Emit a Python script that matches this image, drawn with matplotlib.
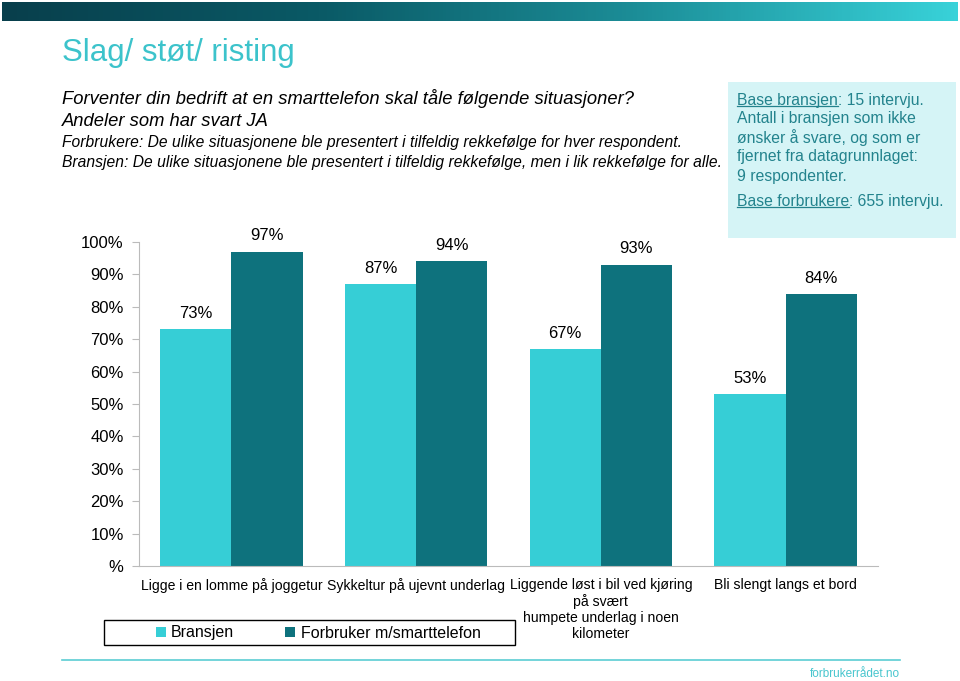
import numpy as np
import matplotlib
matplotlib.use("Agg")
import matplotlib.pyplot as plt
from matplotlib.lines import Line2D
from matplotlib.colors import LinearSegmentedColormap

plt.rcParams['font.family'] = ['Liberation Sans', 'DejaVu Sans']

# Data
categories = [
    "Ligge i en lomme på joggetur",
    "Sykkeltur på ujevnt underlag",
    "Liggende løst i bil ved kjøring\npå svært\nhumpete underlag i noen\nkilometer",
    "Bli slengt langs et bord",
]
bransjen = [73, 87, 67, 53]
forbruker = [97, 94, 93, 84]
series_names = ["Bransjen", "Forbruker m/smarttelefon"]
y_ticks = [0, 10, 20, 30, 40, 50, 60, 70, 80, 90, 100]
y_tick_labels = ["%"] + [f"{v}%" for v in y_ticks[1:]]

light = "#36CED6"
dark = "#0E727D"
teal_text = "#23838D"
title_col = "#3CC3CB"

fig = plt.figure(figsize=(9.6, 6.81), dpi=100)

# Gradient header bar
hdr = fig.add_axes([2 / 960, 1 - 21 / 681, 956 / 960, 19 / 681])
grad = np.linspace(0, 1, 256).reshape(1, -1)
cmap = LinearSegmentedColormap.from_list("hdr", ["#083F4C", "#0A5A66", "#1C8E98", "#38D2D9"])
hdr.imshow(grad, aspect="auto", cmap=cmap)
hdr.axis("off")

# Title and subtitles
fig.text(62 / 960, 1 - 53 / 681, "Slag/ støt/ risting", color=title_col, fontsize=22.5, va="center")
fig.text(62 / 960, 1 - 99 / 681, "Forventer din bedrift at en smarttelefon skal tåle følgende situasjoner?",
         fontsize=13.25, style="italic", va="center")
fig.text(62 / 960, 1 - 121 / 681, "Andeler som har svart JA", fontsize=13.25, style="italic", va="center")
fig.text(62 / 960, 1 - 142 / 681,
         "Forbrukere: De ulike situasjonene ble presentert i tilfeldig rekkefølge for hver respondent.",
         fontsize=11.25, style="italic", va="center")
fig.text(62 / 960, 1 - 162 / 681,
         "Bransjen: De ulike situasjonene ble presentert i tilfeldig rekkefølge, men i lik rekkefølge for alle.",
         fontsize=11.25, style="italic", va="center")

# Info box
fig.patches.append(plt.Rectangle((728 / 960, 1 - 238 / 681), 228 / 960, 156 / 681,
                                 transform=fig.transFigure, facecolor="#D5F4F6", edgecolor="none"))
info_lines = [
    (100, "Base bransjen", ": 15 intervju."),
    (119, "Antall i bransjen som ikke", ""),
    (138, "ønsker å svare, og som er", ""),
    (157, "fjernet fra datagrunnlaget:", ""),
    (177, "9 respondenter.", ""),
    (201, "Base forbrukere", ": 655 intervju."),
]
underlined = []
for ypx, first, rest in info_lines:
    t = fig.text(737 / 960, 1 - ypx / 681, first, fontsize=11.3, color=teal_text, va="center")
    if rest:
        underlined.append((t, rest))

# Chart axes
ax = fig.add_axes([139 / 960, 1 - 566 / 681, 739 / 960, 324 / 681])
x = np.arange(len(categories))
w = 0.385
b1 = ax.bar(x - w / 2, bransjen, w, color=light, label=series_names[0])
b2 = ax.bar(x + w / 2, forbruker, w, color=dark, label=series_names[1])
for bars in (b1, b2):
    for r in bars:
        ax.annotate(f"{r.get_height():.0f}%", (r.get_x() + r.get_width() / 2, r.get_height()),
                    xytext=(0, 6), textcoords="offset points", ha="center", va="bottom", fontsize=12)

ax.set_ylim(0, 100)
ax.set_xlim(-0.5, len(categories) - 0.5)
ax.set_yticks(y_ticks)
ax.set_yticklabels(y_tick_labels, fontsize=12)
ax.set_xticks(x)
ax.set_xticklabels(categories, fontsize=10.1, linespacing=1.15)
ax.tick_params(axis="x", length=0, pad=9)
ax.tick_params(axis="y", length=5, color="#BBBBBB", pad=6)
for s in ("top", "right"):
    ax.spines[s].set_visible(False)
ax.spines["left"].set_color("#BBBBBB")
ax.spines["bottom"].set_color("#BBBBBB")

# Legend: frame drawn by hand so the entries can sit spaced out like the original
fig.patches.append(plt.Rectangle((104 / 960, 1 - 645 / 681), 411 / 960, 25 / 681,
                                 transform=fig.transFigure, facecolor="white",
                                 edgecolor="black", lw=1.0))
leg = fig.legend(loc="center left", bbox_to_anchor=(156 / 960, 1 - 633 / 681), ncol=2,
                 fontsize=11.5, frameon=False,
                 handlelength=0.6, handleheight=0.6, handletextpad=0.35, columnspacing=3.2,
                 borderpad=0.0, borderaxespad=0)

# Footer
fig.add_artist(Line2D([62 / 960, 900 / 960], [1 - 660 / 681] * 2, color="#5BCDD3", lw=1.2,
                      transform=fig.transFigure))
fig.text(900 / 960, 1 - 674 / 681, "forbrukerrådet.no", fontsize=8.5, color="#48C6CE",
         ha="right", va="center")

# Underline the "Base ..." parts and append the rest
fig.canvas.draw()
r = fig.canvas.get_renderer()
inv = fig.transFigure.inverted()
for t, rest in underlined:
    bb = t.get_window_extent(r)
    (x0, y0), (x1, y1) = inv.transform([[bb.x0, bb.y0], [bb.x1, bb.y1]])
    fig.add_artist(Line2D([x0, x1], [y0 + 0.002] * 2, color=teal_text, lw=0.9,
                          transform=fig.transFigure))
    fig.text(x1, t.get_position()[1], rest, fontsize=11.3, color=teal_text, va="center")

fig.savefig("out.png", dpi=100)
